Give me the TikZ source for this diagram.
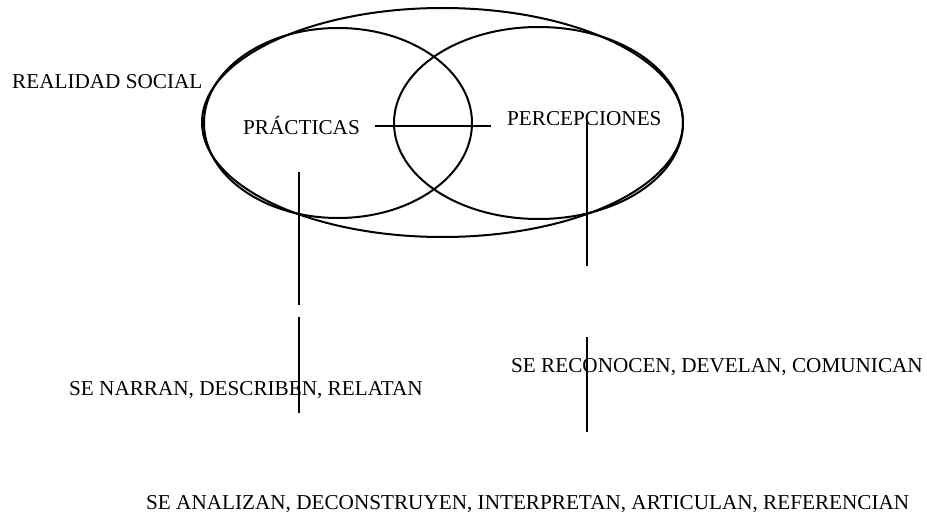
\documentclass[tikz,border=0pt]{standalone}
\usepackage{fontspec}
\setmainfont{Liberation Serif}
\begin{document}
\begin{tikzpicture}[x=1pt,y=-1pt,
  lbl/.style={anchor=base west,inner sep=0pt,font=\fontsize{21.2}{25}\selectfont},
  ring/.style={line width=2pt},
  rule/.style={line width=2pt}]
\useasboundingbox (0,0) rectangle (927,516);
% ellipses
\draw[ring] (442.5,122.5) ellipse [x radius=240.5, y radius=114.5];
\draw[ring] (338,123) ellipse [x radius=134, y radius=95];
\draw[ring] (538.5,123) ellipse [x radius=144.5, y radius=96];
% labels
\node[lbl] (real) at (12,89) {REALIDAD SOCIAL};
\node[lbl] (prac) at (243,135) {PRÁCTICAS};
\node[lbl] (perc) at (507,126) {PERCEPCIONES};
\node[lbl] (narr) at (69,395) {SE NARRAN, DESCRIBEN, RELATAN};
\node[lbl] (reco) at (511,372) {SE RECONOCEN, DEVELAN, COMUNICAN};
\node[lbl] (anal) at (146,509) {SE ANALIZAN, DECONSTRUYEN, INTERPRETAN, ARTICULAN, REFERENCIAN};
% connector coordinates
\coordinate (h1) at (375,126);
\coordinate (h2) at (491,126);
\coordinate (la1) at (299,172);
\coordinate (la2) at (299,305);
\coordinate (lb1) at (299,317);
\coordinate (lb2) at (299,413);
\coordinate (ra1) at (587,122);
\coordinate (ra2) at (587,266);
\coordinate (rb1) at (587,337);
\coordinate (rb2) at (587,432);
\draw[rule] (h1) -- (h2);
\draw[rule] (la1) -- (la2);
\draw[rule] (lb1) -- (lb2);
\draw[rule] (ra1) -- (ra2);
\draw[rule] (rb1) -- (rb2);
\end{tikzpicture}
\end{document}
